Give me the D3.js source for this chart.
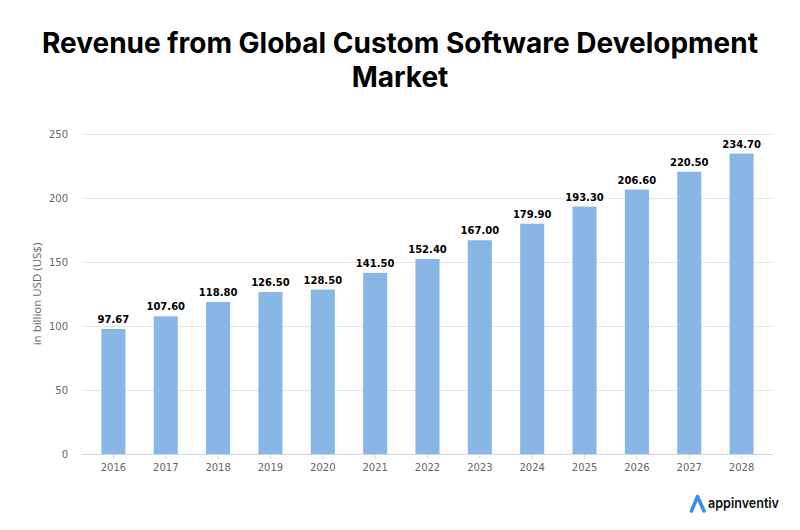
<!DOCTYPE html>
<html>
<head>
<meta charset="utf-8">
<script src="https://cdn.jsdelivr.net/npm/d3@7/dist/d3.min.js"></script>
<style>
  html, body { margin: 0; padding: 0; background: #fff; }
  svg { display: block; }
</style>
</head>
<body>
<svg id="chart" width="800" height="530"></svg>
<script>
const years = ["2016","2017","2018","2019","2020","2021","2022","2023","2024","2025","2026","2027","2028"];
const revenue = [97.67,107.60,118.80,126.50,128.50,141.50,152.40,167.00,179.90,193.30,206.60,220.50,234.70];
const valueLabels = ["97.67","107.60","118.80","126.50","128.50","141.50","152.40","167.00","179.90","193.30","206.60","220.50","234.70"];
const yTicks = [0,50,100,150,200,250];
const titleLines = ["Revenue from Global Custom Software Development","Market"];
const yAxisTitle = "in billion USD (US$)";
const brand = "appinventiv";

const svg = d3.select("#chart");
const pLeft = 82, pRight = 773, pTop = 134, pBottom = 454;

const x = d3.scaleBand().domain(years).range([pLeft, pRight]).paddingInner(0.54).paddingOuter(0.37);
const y = d3.scaleLinear().domain([0, 250]).range([pBottom, pTop]);

// Title
const title = svg.append("g");
const titleNodes = titleLines.map((t, i) => title.append("text")
    .attr("x", 400).attr("y", 53 + i * 34)
    .attr("text-anchor", "middle")
    .attr("font-family", "Inter, Lato, sans-serif")
    .attr("font-weight", 700)
    .attr("font-size", 28)
    .attr("fill", "#000")
    .text(t));
// fit the first line's width to the reference (≈716px) via letter spacing
{
  const w = titleNodes[0].node().getComputedTextLength();
  const n = titleLines[0].length;
  const ls = (716 - w) / (n - 1);
  titleNodes.forEach(s => s.attr("letter-spacing", ls));
}

// Grid
const grid = svg.append("g");
grid.selectAll("line").data(yTicks.filter(d => d > 0)).join("line")
  .attr("x1", pLeft).attr("x2", pRight)
  .attr("y1", d => y(d)).attr("y2", d => y(d))
  .attr("stroke", "#e6e6e6").attr("stroke-width", 1)
  .attr("shape-rendering", "crispEdges");

// Y axis labels
const yAxis = svg.append("g").attr("transform", `translate(${pLeft},0)`)
  .call(d3.axisLeft(y).tickValues(yTicks).tickSize(0).tickPadding(14));
yAxis.select(".domain").remove();
yAxis.selectAll("text")
  .attr("font-family", "'DejaVu Sans', Verdana, sans-serif")
  .attr("font-size", 10).attr("fill", "#666").attr("dy", "0.32em");

// Y axis title
svg.append("text")
  .attr("transform", `translate(41,${(pTop + pBottom) / 2}) rotate(-90)`)
  .attr("text-anchor", "middle")
  .attr("font-family", "'Open Sans', sans-serif")
  .attr("font-size", 11.5).attr("fill", "#666")
  .text(yAxisTitle);

// Bars
svg.append("g").selectAll("rect").data(years).join("rect")
  .attr("x", (d) => x(d))
  .attr("width", x.bandwidth())
  .attr("y", (d, i) => y(revenue[i]))
  .attr("height", (d, i) => y(0) - y(revenue[i]))
  .attr("fill", "#89b7e5");

// Value labels
svg.append("g").selectAll("text").data(years).join("text")
  .attr("x", d => x(d) + x.bandwidth() / 2)
  .attr("y", (d, i) => y(revenue[i]) - 6)
  .attr("text-anchor", "middle")
  .attr("font-family", "'DejaVu Sans', Verdana, sans-serif")
  .attr("font-weight", 700)
  .attr("font-size", 10)
  .attr("fill", "#000")
  .text((d, i) => valueLabels[i]);

// X axis
const xAxis = svg.append("g").attr("transform", `translate(0,${pBottom})`)
  .call(d3.axisBottom(x).tickSize(5).tickPadding(5).tickSizeOuter(0));
xAxis.select(".domain").attr("d", `M${pLeft},0.5H${pRight}`).attr("stroke", "#ccd6eb");
xAxis.selectAll(".tick line").attr("stroke", "#ccd6eb");
xAxis.selectAll("text")
  .attr("font-family", "'DejaVu Sans', Verdana, sans-serif")
  .attr("font-size", 10).attr("fill", "#666");

// Brand logo
const logo = svg.append("g");
logo.append("path")
  .attr("d", "M691.5,511 L697.5,496.5 L704,511")
  .attr("fill", "none")
  .attr("stroke", "#3a8ee8").attr("stroke-width", 3.6)
  .attr("stroke-linejoin", "round").attr("stroke-linecap", "round");
logo.append("text")
  .attr("x", 708).attr("y", 508)
  .attr("font-family", "Inter, Lato, sans-serif")
  .attr("font-weight", 600).attr("font-size", 14).attr("fill", "#111")
  .attr("textLength", 71).attr("lengthAdjust", "spacingAndGlyphs")
  .text(brand);
</script>
</body>
</html>
